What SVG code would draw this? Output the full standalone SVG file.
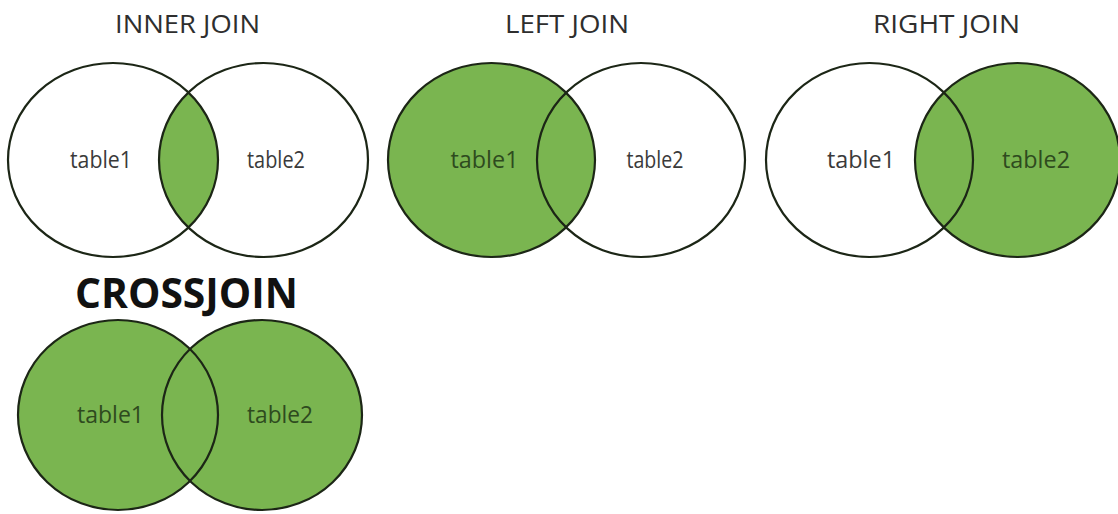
<svg xmlns="http://www.w3.org/2000/svg" width="1118" height="514" viewBox="0 0 1118 514">
<style>
.bg{fill:#ffffff}
.ring{fill:none;stroke:#1c2616;stroke-width:2.2}
.fill{fill:#7ab550}
.title{font-family:"Open Sans","Liberation Sans",sans-serif;font-size:25px;fill:#2e2e2e;text-anchor:middle}
.big{font-family:"Open Sans","Liberation Sans",sans-serif;font-size:41px;font-weight:bold;fill:#111111;text-anchor:middle}
.lbl{font-family:"Open Sans","Liberation Sans",sans-serif;font-size:24px;fill:#3a3a3a;text-anchor:middle}
.lblg{font-family:"Open Sans","Liberation Sans",sans-serif;font-size:24px;fill:#2e4a1e;text-anchor:middle}
</style>
<defs>
<clipPath id="innerClip"><ellipse cx="263.5" cy="160" rx="104.5" ry="97"/></clipPath>
</defs>
<rect class="bg" x="0" y="0" width="1118" height="514"/>

<g id="inner-join">
<text class="title" x="187.5" y="33" textLength="145" lengthAdjust="spacingAndGlyphs">INNER JOIN</text>
<ellipse class="fill" cx="113" cy="160" rx="105" ry="97" clip-path="url(#innerClip)"/>
<ellipse class="ring" cx="113" cy="160" rx="105" ry="97"/>
<ellipse class="ring" cx="263.5" cy="160" rx="104.5" ry="97"/>
<text class="lbl" x="101" y="168" textLength="62" lengthAdjust="spacingAndGlyphs">table1</text>
<text class="lbl" x="276" y="168" textLength="58" lengthAdjust="spacingAndGlyphs">table2</text>
</g>

<g id="left-join">
<text class="title" x="567" y="33" textLength="124" lengthAdjust="spacingAndGlyphs">LEFT JOIN</text>
<ellipse class="fill" cx="491.5" cy="160" rx="103.5" ry="97"/>
<ellipse class="ring" cx="491.5" cy="160" rx="103.5" ry="97"/>
<ellipse class="ring" cx="641" cy="160" rx="104" ry="97"/>
<text class="lblg" x="484.5" y="168" textLength="68" lengthAdjust="spacingAndGlyphs">table1</text>
<text class="lbl" x="655" y="168" textLength="57" lengthAdjust="spacingAndGlyphs">table2</text>
</g>

<g id="right-join">
<text class="title" x="946.5" y="33" textLength="147" lengthAdjust="spacingAndGlyphs">RIGHT JOIN</text>
<ellipse class="fill" cx="1017.5" cy="160" rx="102.5" ry="97"/>
<ellipse class="ring" cx="869.5" cy="160" rx="103.5" ry="97"/>
<ellipse class="ring" cx="1017.5" cy="160" rx="102.5" ry="97"/>
<text class="lbl" x="861" y="168" textLength="68" lengthAdjust="spacingAndGlyphs">table1</text>
<text class="lblg" x="1036" y="168" textLength="68" lengthAdjust="spacingAndGlyphs">table2</text>
</g>

<g id="cross-join">
<text class="big" x="186.5" y="308" textLength="223" lengthAdjust="spacingAndGlyphs">CROSSJOIN</text>
<ellipse class="fill" cx="118" cy="415" rx="100" ry="95"/>
<ellipse class="fill" cx="262" cy="415" rx="100" ry="95"/>
<ellipse class="ring" cx="118" cy="415" rx="100" ry="95"/>
<ellipse class="ring" cx="262" cy="415" rx="100" ry="95"/>
<text class="lblg" x="110.5" y="423" textLength="67" lengthAdjust="spacingAndGlyphs">table1</text>
<text class="lblg" x="280" y="423" textLength="66" lengthAdjust="spacingAndGlyphs">table2</text>
</g>
</svg>
